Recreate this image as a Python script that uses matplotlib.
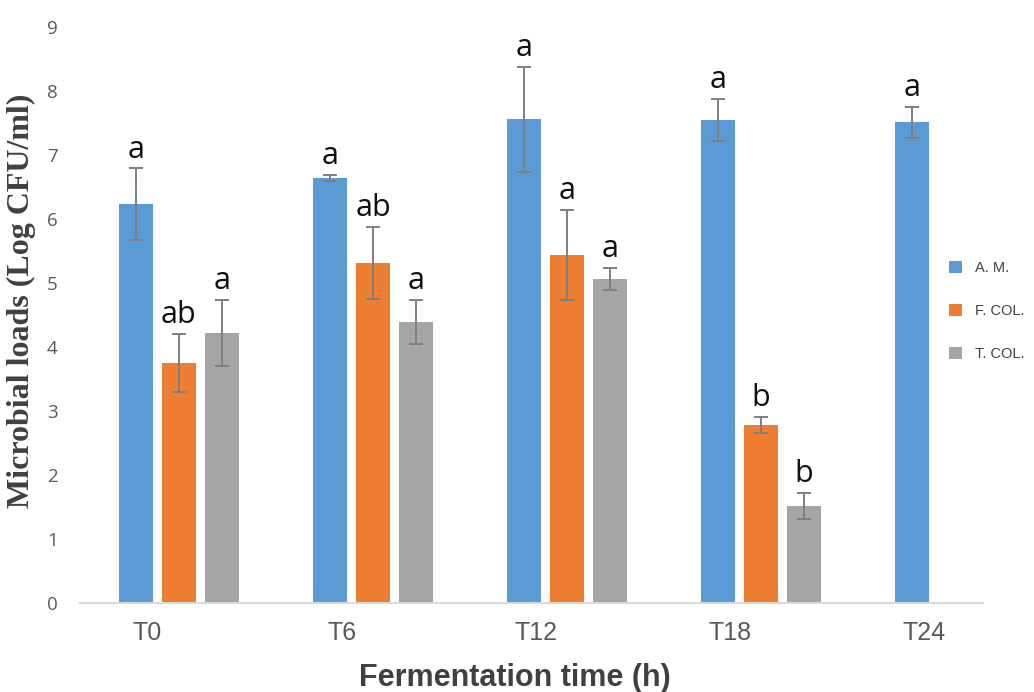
import numpy as np
import matplotlib
matplotlib.use("Agg")
import matplotlib.pyplot as plt
from matplotlib.patches import Patch

# data
times = ["T0", "T6", "T12", "T18", "T24"]
series_names = ["A. M.", "F. COL.", "T. COL."]

am_mean = [6.23, 6.64, 7.56, 7.55, 7.51]
am_err = [0.56, 0.05, 0.82, 0.33, 0.24]
am_letters = ["a", "a", "a", "a", "a"]

fcol_mean = [3.75, 5.31, 5.44, 2.78, np.nan]
fcol_err = [0.45, 0.56, 0.70, 0.13, np.nan]
fcol_letters = ["ab", "ab", "a", "b", ""]

tcol_mean = [4.22, 4.39, 5.06, 1.52, np.nan]
tcol_err = [0.52, 0.35, 0.17, 0.20, np.nan]
tcol_letters = ["a", "a", "a", "b", ""]

COLORS = ["#5B9BD5", "#ED7D31", "#A5A5A5"]
TICK_FONT = ["Liberation Sans", "DejaVu Sans"]

fig = plt.figure(figsize=(10.34, 6.92), dpi=100)
ax = fig.add_axes([0.0774, 0.1286, 0.8733, 0.8324])

x = np.arange(len(times))
step = 0.222
width = 0.175

groups = [
    (am_mean, am_err, am_letters),
    (fcol_mean, fcol_err, fcol_letters),
    (tcol_mean, tcol_err, tcol_letters),
]

for k, (means, errs, letters) in enumerate(groups):
    pos = x + (k - 1) * step
    ax.bar(pos, means, width=width, color=COLORS[k], zorder=2)
    ax.errorbar(pos, means, yerr=errs, fmt="none", ecolor="#7F7F7F",
                elinewidth=1.4, capsize=5, capthick=1.4, zorder=3)
    for p, m, e, lab in zip(pos, means, errs, letters):
        if lab:
            ax.text(p, m + e + 0.17, lab, ha="center", va="baseline",
                    fontsize=22, family=["Open Sans", "DejaVu Sans"], color="#111111")

ax.set_xlim(-0.51, 4.144)
ax.set_ylim(0, 9)
ax.set_yticks(range(0, 10))
ax.set_xticks(x - step + 0.06)
ax.set_xticklabels(times)

for s in ["top", "right", "left"]:
    ax.spines[s].set_visible(False)
ax.spines["bottom"].set_color("#D9D9D9")
ax.spines["bottom"].set_linewidth(1.5)

ax.tick_params(axis="both", length=0, colors="#595959")
ax.tick_params(axis="y", pad=16, labelsize=13.5)
ax.tick_params(axis="x", pad=13, labelsize=18)
for t in ax.get_yticklabels():
    t.set_family(["Open Sans", "DejaVu Sans"])
for t in ax.get_xticklabels():
    t.set_family(TICK_FONT)

ax.set_xlabel("Fermentation time (h)", fontsize=22, fontweight="bold",
              color="#404040", family=TICK_FONT)
ax.xaxis.set_label_coords(0.482, -0.104)
ax.set_ylabel("Microbial loads (Log CFU/ml)", fontsize=23, fontweight="bold",
              color="#404040", family=["Liberation Serif", "DejaVu Serif"])
ax.yaxis.set_label_coords(-0.049, 0.524)

handles = [Patch(facecolor=c, edgecolor="none") for c in COLORS]
leg = fig.legend(handles, series_names, loc="upper left",
                 bbox_to_anchor=(0.905, 0.642), frameon=False,
                 handlelength=0.9, handleheight=0.9, handletextpad=0.9,
                 labelspacing=2.0,
                 prop={"family": TICK_FONT, "size": 10.5})
for t in leg.get_texts():
    t.set_color("#404040")

fig.savefig("out.png", dpi=100)
